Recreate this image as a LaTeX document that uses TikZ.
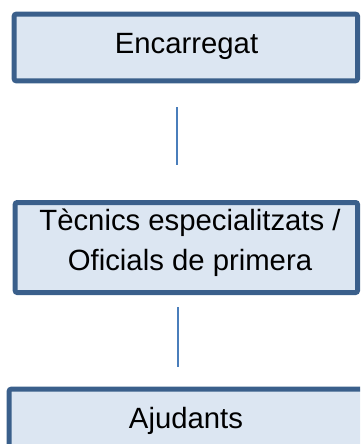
\documentclass[tikz,border=0pt]{standalone}
\usepackage{fontspec}
\setmainfont{Liberation Sans}
\definecolor{boxfill}{HTML}{DCE6F2}
\definecolor{boxdraw}{HTML}{3A5F8B}
\definecolor{linkc}{HTML}{4A7EBB}
\begin{document}
\begin{tikzpicture}[x=1pt,y=-1pt,
  box/.style={draw=boxdraw, fill=boxfill, line width=5pt, rounded corners=2pt, inner sep=0pt, outer sep=0pt},
  lbl/.style={font=\fontsize{29.3}{40}\selectfont, inner sep=0pt, text=black},
  link/.style={draw=linkc, line width=2pt}]
\useasboundingbox (0,0) rectangle (360,444);
\clip (0,0) rectangle (360,444);
\node[box, minimum width=343.3, minimum height=66.6] (b1) at (185.85,47.5) {};
\node[box, minimum width=342.3, minimum height=90] (b2) at (186.35,247.5) {};
\node[box, minimum width=360, minimum height=80] (b3) at (189.2,429.2) {};
\node[lbl, anchor=base] (t1) at (186.5,53.3) {Encarregat};
\node[lbl, align=center] (t2) at (190,242.3) {Tècnics especialitzats /\\Oficials de primera};
\node[lbl, anchor=base] (t3) at (186,428.3) {Ajudants};
\coordinate (l1a) at (176.5,107);
\coordinate (l1b) at (176.5,165);
\coordinate (l2a) at (177.5,307);
\coordinate (l2b) at (177.5,367);
\draw[link] (l1a) -- (l1b);
\draw[link] (l2a) -- (l2b);
\end{tikzpicture}
\end{document}
